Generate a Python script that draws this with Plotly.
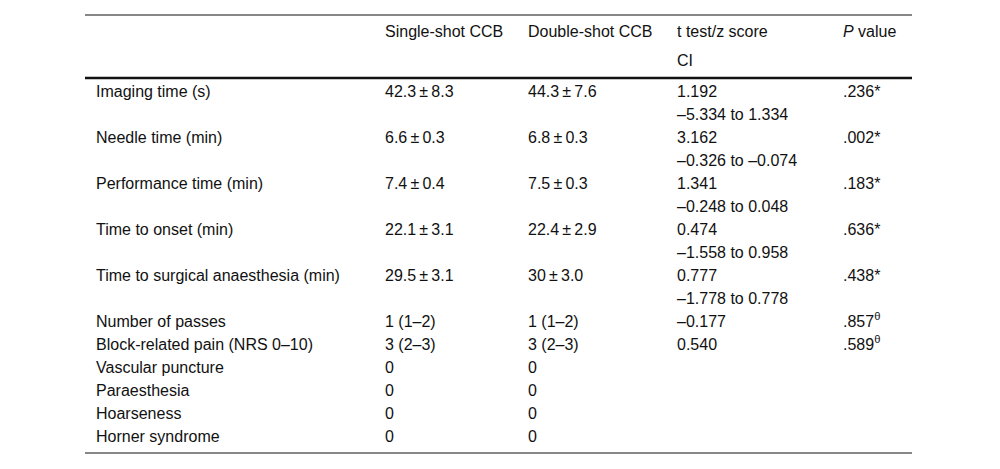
import plotly.graph_objects as go

# ---- data ----
header = ["", "Single-shot CCB", "Double-shot CCB", "t test/z score", "<i>P</i> value"]
header_sub = ["", "", "", "CI", ""]
labels = ["Imaging time (s)", "Needle time (min)", "Performance time (min)", "Time to onset (min)",
          "Time to surgical anaesthesia (min)", "Number of passes", "Block-related pain (NRS 0\u201310)",
          "Vascular puncture", "Paraesthesia", "Hoarseness", "Horner syndrome"]
single = ["42.3\u2009\u00b1\u20098.3", "6.6\u2009\u00b1\u20090.3", "7.4\u2009\u00b1\u20090.4", "22.1\u2009\u00b1\u20093.1",
          "29.5\u2009\u00b1\u20093.1", "1 (1\u20132)", "3 (2\u20133)", "0", "0", "0", "0"]
double = ["44.3\u2009\u00b1\u20097.6", "6.8\u2009\u00b1\u20090.3", "7.5\u2009\u00b1\u20090.3", "22.4\u2009\u00b1\u20092.9",
          "30\u2009\u00b1\u20093.0", "1 (1\u20132)", "3 (2\u20133)", "0", "0", "0", "0"]
stat = ["1.192", "3.162", "1.341", "0.474", "0.777", "\u20130.177", "0.540", "", "", "", ""]
ci = ["\u20135.334 to 1.334", "\u20130.326 to \u20130.074", "\u20130.248 to 0.048", "\u20131.558 to 0.958",
      "\u20131.778 to 0.778", "", "", "", "", "", ""]
pval = [".236*", ".002*", ".183*", ".636*", ".438*", ".857<sup>\u03b8</sup>", ".589<sup>\u03b8</sup>", "", "", "", ""]

# ---- layout constants ----
W, H = 1000, 469
OFF = 8  # page body margin
col_x = [96, 385, 528, 677, 843]
x_left, x_right = 85, 912
head_y1, head_y2 = 33, 62
row_y0, line_h = 93, 23
font = dict(family="Liberation Sans, Arial, sans-serif", size=16, color="#111111")

xs, ys, ts = [], [], []
for i, h in enumerate(header):
    if h:
        xs.append(col_x[i]); ys.append(head_y1); ts.append(h)
for i, h in enumerate(header_sub):
    if h:
        xs.append(col_x[i]); ys.append(head_y2); ts.append(h)

slot = 0
for k in range(len(labels)):
    y = row_y0 + line_h * slot
    for ci_idx, val in enumerate([labels[k], single[k], double[k], stat[k], pval[k]]):
        if val:
            xs.append(col_x[ci_idx]); ys.append(y); ts.append(val)
    if ci[k]:
        xs.append(col_x[3]); ys.append(y + line_h); ts.append(ci[k])
        slot += 2
    else:
        slot += 1
y_end = row_y0 + line_h * slot

fig = go.Figure(go.Scatter(x=xs, y=ys, text=ts, mode="text", textposition="middle right",
                           textfont=font, hoverinfo="skip", cliponaxis=False))

fig.add_shape(type="line", x0=x_left, x1=x_right, y0=15, y1=15, line=dict(color="#111111", width=1.2))
fig.add_shape(type="line", x0=x_left, x1=x_right, y0=78, y1=78, line=dict(color="#111111", width=2.5))
fig.add_shape(type="line", x0=x_left, x1=x_right, y0=y_end - 8, y1=y_end - 8, line=dict(color="#111111", width=1.2))

fig.update_layout(width=W, height=H, margin=dict(l=0, r=0, t=0, b=0),
                  paper_bgcolor="white", plot_bgcolor="white", showlegend=False,
                  xaxis=dict(range=[OFF, W + OFF], visible=False, fixedrange=True),
                  yaxis=dict(range=[H + OFF, OFF], visible=False, fixedrange=True))
fig.write_html("out.html", config={"displayModeBar": False})
